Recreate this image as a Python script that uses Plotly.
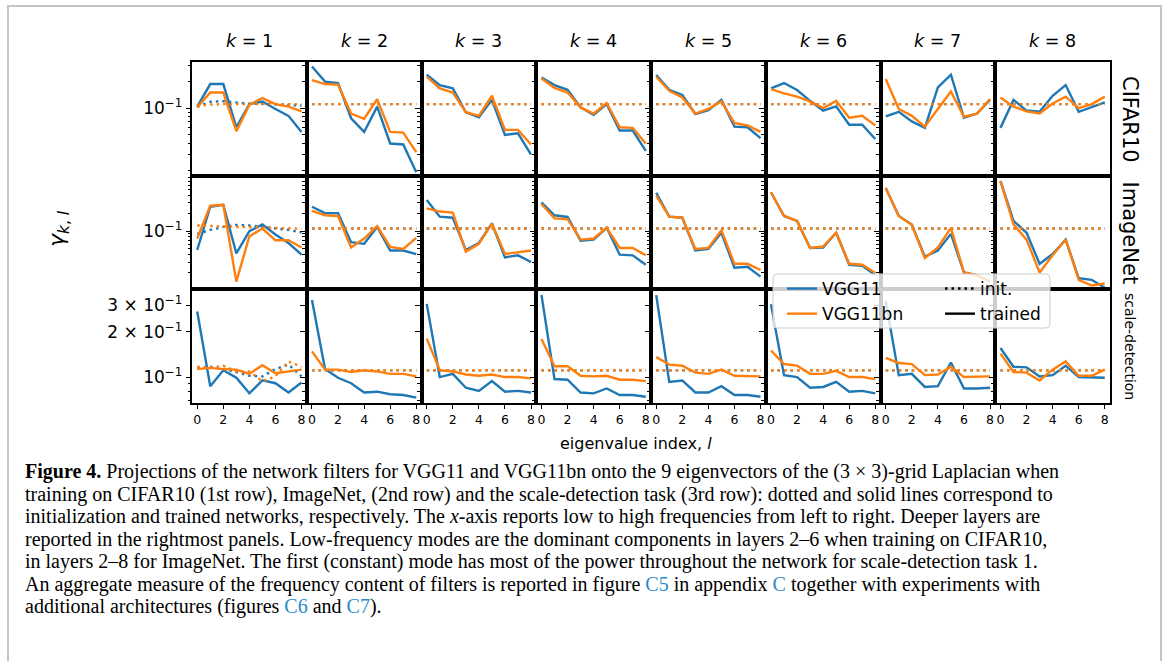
import plotly.graph_objects as go
from plotly.subplots import make_subplots

# ---------------- data ----------------
l_index = [0, 1, 2, 3, 4, 5, 6, 7, 8]
k_labels = ["1", "2", "3", "4", "5", "6", "7", "8"]
row_names = ["CIFAR10", "ImageNet", "scale-detection"]

init_flat = [0.111, 0.111, 0.111, 0.111, 0.111, 0.111, 0.111, 0.111, 0.111]

# CIFAR10
c10_vgg11_trained = [
    [0.104, 0.187, 0.187, 0.061, 0.111, 0.119, 0.098, 0.082, 0.054],
    [0.295, 0.199, 0.192, 0.077, 0.054, 0.104, 0.040, 0.039, 0.019],
    [0.238, 0.182, 0.167, 0.090, 0.079, 0.124, 0.050, 0.052, 0.030],
    [0.222, 0.182, 0.161, 0.102, 0.084, 0.111, 0.056, 0.056, 0.033],
    [0.236, 0.161, 0.141, 0.086, 0.095, 0.124, 0.062, 0.061, 0.046],
    [0.167, 0.192, 0.160, 0.121, 0.094, 0.105, 0.065, 0.065, 0.045],
    [0.081, 0.091, 0.071, 0.060, 0.171, 0.238, 0.078, 0.087, 0.124],
    [0.060, 0.124, 0.094, 0.091, 0.138, 0.182, 0.091, 0.102, 0.116],
]
c10_vgg11bn_trained = [
    [0.102, 0.150, 0.150, 0.055, 0.109, 0.130, 0.111, 0.104, 0.092],
    [0.207, 0.187, 0.184, 0.087, 0.076, 0.126, 0.054, 0.053, 0.032],
    [0.226, 0.167, 0.150, 0.090, 0.082, 0.138, 0.057, 0.057, 0.039],
    [0.216, 0.169, 0.150, 0.102, 0.087, 0.114, 0.061, 0.060, 0.040],
    [0.226, 0.157, 0.132, 0.087, 0.098, 0.119, 0.068, 0.064, 0.054],
    [0.164, 0.147, 0.135, 0.119, 0.100, 0.121, 0.078, 0.082, 0.064],
    [0.213, 0.098, 0.082, 0.062, 0.098, 0.154, 0.080, 0.087, 0.127],
    [0.132, 0.104, 0.092, 0.087, 0.113, 0.135, 0.100, 0.111, 0.135],
]
c10_vgg11_init_k1 = [0.104, 0.118, 0.120, 0.115, 0.112, 0.112, 0.110, 0.109, 0.107]
c10_vgg11bn_init_k1 = [0.105, 0.110, 0.111, 0.111, 0.112, 0.111, 0.111, 0.111, 0.111]

# ImageNet
in_vgg11_trained = [
    [0.048, 0.259, 0.280, 0.042, 0.100, 0.130, 0.088, 0.063, 0.040],
    [0.259, 0.202, 0.202, 0.065, 0.061, 0.118, 0.047, 0.047, 0.041],
    [0.338, 0.176, 0.169, 0.048, 0.063, 0.136, 0.036, 0.039, 0.030],
    [0.307, 0.186, 0.174, 0.069, 0.072, 0.114, 0.040, 0.039, 0.027],
    [0.447, 0.176, 0.169, 0.047, 0.050, 0.094, 0.024, 0.025, 0.017],
    [0.457, 0.181, 0.149, 0.052, 0.053, 0.094, 0.027, 0.026, 0.018],
    [0.537, 0.181, 0.130, 0.037, 0.047, 0.090, 0.020, 0.018, 0.014],
    [0.708, 0.149, 0.094, 0.028, 0.041, 0.072, 0.016, 0.015, 0.011],
]
in_vgg11bn_trained = [
    [0.075, 0.270, 0.280, 0.014, 0.082, 0.111, 0.070, 0.070, 0.053],
    [0.221, 0.186, 0.181, 0.053, 0.075, 0.122, 0.054, 0.050, 0.077],
    [0.243, 0.215, 0.207, 0.045, 0.061, 0.134, 0.041, 0.044, 0.047],
    [0.288, 0.165, 0.160, 0.072, 0.075, 0.114, 0.052, 0.052, 0.039],
    [0.401, 0.176, 0.169, 0.050, 0.052, 0.104, 0.028, 0.028, 0.022],
    [0.457, 0.181, 0.149, 0.052, 0.055, 0.094, 0.028, 0.027, 0.0195],
    [0.537, 0.181, 0.128, 0.035, 0.053, 0.114, 0.020, 0.018, 0.014],
    [0.708, 0.130, 0.072, 0.020, 0.039, 0.072, 0.015, 0.012, 0.013],
]
in_vgg11_init_k1 = [0.090, 0.105, 0.118, 0.128, 0.125, 0.118, 0.112, 0.105, 0.095]
in_vgg11bn_init_k1 = [0.125, 0.122, 0.120, 0.118, 0.117, 0.116, 0.114, 0.112, 0.110]

# scale-detection
sd_vgg11_trained = [
    [0.272, 0.087, 0.111, 0.099, 0.078, 0.095, 0.091, 0.079, 0.092],
    [0.325, 0.113, 0.099, 0.091, 0.079, 0.080, 0.077, 0.076, 0.073],
    [0.306, 0.100, 0.105, 0.085, 0.081, 0.094, 0.080, 0.081, 0.079],
    [0.350, 0.097, 0.096, 0.079, 0.078, 0.084, 0.076, 0.076, 0.074],
    [0.350, 0.093, 0.095, 0.079, 0.079, 0.087, 0.076, 0.076, 0.074],
    [0.304, 0.103, 0.100, 0.085, 0.086, 0.093, 0.080, 0.081, 0.078],
    [0.320, 0.103, 0.105, 0.086, 0.087, 0.125, 0.084, 0.084, 0.085],
    [0.156, 0.117, 0.116, 0.101, 0.103, 0.119, 0.100, 0.099, 0.099],
]
sd_vgg11bn_trained = [
    [0.113, 0.115, 0.113, 0.112, 0.105, 0.120, 0.106, 0.109, 0.112],
    [0.148, 0.112, 0.112, 0.108, 0.111, 0.109, 0.105, 0.105, 0.101],
    [0.180, 0.111, 0.109, 0.104, 0.102, 0.104, 0.100, 0.100, 0.098],
    [0.179, 0.118, 0.118, 0.102, 0.101, 0.102, 0.096, 0.096, 0.094],
    [0.136, 0.121, 0.119, 0.107, 0.105, 0.112, 0.102, 0.102, 0.101],
    [0.150, 0.122, 0.119, 0.105, 0.105, 0.110, 0.100, 0.100, 0.097],
    [0.134, 0.124, 0.122, 0.103, 0.104, 0.117, 0.100, 0.100, 0.101],
    [0.143, 0.108, 0.107, 0.095, 0.112, 0.127, 0.102, 0.102, 0.112],
]
sd_vgg11_init_k1 = [0.115, 0.117, 0.113, 0.108, 0.102, 0.101, 0.113, 0.121, 0.101]
sd_vgg11bn_init_k1 = [0.117, 0.115, 0.119, 0.109, 0.109, 0.094, 0.101, 0.127, 0.117]

x_tickvals = [0, 2, 4, 6, 8]
y_major_vals = [[0.1], [0.1], [0.1, 0.2, 0.3]]
y_major_text = [["10<sup>−1</sup>"], ["10<sup>−1</sup>"],
                ["10<sup>−1</sup>", "2 × 10<sup>−1</sup>", "3 × 10<sup>−1</sup>"]]
y_minor_vals = [
    [0.02, 0.03, 0.04, 0.05, 0.06, 0.07, 0.08, 0.09, 0.2, 0.3],
    [0.02, 0.03, 0.04, 0.05, 0.06, 0.07, 0.08, 0.09, 0.2, 0.3, 0.4, 0.5, 0.6, 0.7, 0.8],
    [0.07, 0.08, 0.09],
]
y_log_ranges = [[-1.76, -0.48], [-1.985, -0.06], [-1.172, -0.418]]

caption_lines = [
    "<b>Figure 4.</b> Projections of the network filters for VGG11 and VGG11bn onto the 9 eigenvectors of the (3 × 3)-grid Laplacian when",
    "training on CIFAR10 (1st row), ImageNet, (2nd row) and the scale-detection task (3rd row): dotted and solid lines correspond to",
    "initialization and trained networks, respectively. The <i>x</i>-axis reports low to high frequencies from left to right. Deeper layers are",
    "reported in the rightmost panels. Low-frequency modes are the dominant components in layers 2–6 when training on CIFAR10,",
    "in layers 2–8 for ImageNet. The first (constant) mode has most of the power throughout the network for scale-detection task 1.",
    "An aggregate measure of the frequency content of filters is reported in figure <span style='color:#2a8cc8'>C5</span> in appendix <span style='color:#2a8cc8'>C</span> together with experiments with",
    "additional architectures (figures <span style='color:#2a8cc8'>C6</span> and <span style='color:#2a8cc8'>C7</span>).",
]

# ---------------- figure ----------------
W, H = 1168, 661
X0, X1 = 192, 1110
Y0, Y1 = 62, 403
BLUE, ORANGE = "#1f77b4", "#ff7f0e"
FONT = "DejaVu Sans"

fig = make_subplots(rows=3, cols=8, horizontal_spacing=0, vertical_spacing=0)

trained = [(c10_vgg11_trained, c10_vgg11bn_trained),
           (in_vgg11_trained, in_vgg11bn_trained),
           (sd_vgg11_trained, sd_vgg11bn_trained)]
init_k1 = [(c10_vgg11_init_k1, c10_vgg11bn_init_k1),
           (in_vgg11_init_k1, in_vgg11bn_init_k1),
           (sd_vgg11_init_k1, sd_vgg11bn_init_k1)]

LW = 2.4
DOT = "2.5px,4px"
for r in range(3):
    for c in range(8):
        b_tr, o_tr = trained[r][0][c], trained[r][1][c]
        if c == 0:
            b_in, o_in = init_k1[r]
        else:
            b_in, o_in = init_flat, init_flat
        fig.add_trace(go.Scatter(x=l_index, y=b_in, mode="lines", showlegend=False,
                                 line=dict(color=BLUE, width=LW, dash=DOT)), row=r + 1, col=c + 1)
        fig.add_trace(go.Scatter(x=l_index, y=b_tr, mode="lines", showlegend=False,
                                 line=dict(color=BLUE, width=LW)), row=r + 1, col=c + 1)
        fig.add_trace(go.Scatter(x=l_index, y=o_in, mode="lines", showlegend=False,
                                 line=dict(color=ORANGE, width=LW, dash=DOT)), row=r + 1, col=c + 1)
        fig.add_trace(go.Scatter(x=l_index, y=o_tr, mode="lines", showlegend=False,
                                 line=dict(color=ORANGE, width=LW)), row=r + 1, col=c + 1)

        xd = [(X0 + c * (X1 - X0) / 8) / W, (X0 + (c + 1) * (X1 - X0) / 8) / W]
        yd = [1 - (Y0 + (r + 1) * (Y1 - Y0) / 3) / H, 1 - (Y0 + r * (Y1 - Y0) / 3) / H]
        fig.update_xaxes(row=r + 1, col=c + 1, domain=xd, range=[-0.4, 8.4],
                         showline=True, mirror=True, linecolor="black", linewidth=1.6,
                         showgrid=False, zeroline=False,
                         tickmode="array", tickvals=x_tickvals,
                         ticks="outside" if r == 2 else "", ticklen=4, tickwidth=1.2, tickcolor="black",
                         showticklabels=(r == 2),
                         tickfont=dict(family=FONT, size=12.5, color="black"))
        fig.update_yaxes(row=r + 1, col=c + 1, domain=yd, type="log", range=y_log_ranges[r],
                         showline=True, mirror=True, linecolor="black", linewidth=1.6,
                         showgrid=False, zeroline=False,
                         tickmode="array", tickvals=y_major_vals[r], ticktext=y_major_text[r],
                         ticks="outside", ticklen=4.5, tickwidth=1.2, tickcolor="black",
                         showticklabels=(c == 0),
                         tickfont=dict(family=FONT, size=17, color="black"),
                         minor=dict(tickmode="array", tickvals=y_minor_vals[r], ticks="outside",
                                    ticklen=2.5, tickwidth=1, tickcolor="black", showgrid=False))

# legend entries
fig.add_trace(go.Scatter(x=[None], y=[None], mode="lines", name="VGG11", legend="legend",
                         line=dict(color=BLUE, width=LW)))
fig.add_trace(go.Scatter(x=[None], y=[None], mode="lines", name="VGG11bn", legend="legend",
                         line=dict(color=ORANGE, width=LW)))
fig.add_trace(go.Scatter(x=[None], y=[None], mode="lines", name="init.", legend="legend2",
                         line=dict(color="black", width=LW, dash=DOT)))
fig.add_trace(go.Scatter(x=[None], y=[None], mode="lines", name="trained", legend="legend2",
                         line=dict(color="black", width=LW)))

ann = []
for c in range(8):
    ann.append(dict(x=(X0 + (c + 0.5) * (X1 - X0) / 8) / W, y=1 - 41 / H, xref="paper", yref="paper",
                    text="<i>k</i> = " + k_labels[c], showarrow=False,
                    font=dict(family=FONT, size=17.5, color="black"), xanchor="center", yanchor="middle"))
row_centers = [119, 232.5, 346]
row_sizes = [21, 21, 14]
for r in range(3):
    ann.append(dict(x=1130 / W, y=1 - row_centers[r] / H, xref="paper", yref="paper",
                    text=row_names[r], textangle=90, showarrow=False,
                    font=dict(family=FONT, size=row_sizes[r], color="black"),
                    xanchor="center", yanchor="middle"))
ann.append(dict(x=58 / W, y=1 - 229 / H, xref="paper", yref="paper",
                text="<i>γ</i><sub><i>k</i>, <i>l</i></sub>", textangle=-90, showarrow=False,
                font=dict(family=FONT, size=22, color="black"), xanchor="center", yanchor="middle"))
ann.append(dict(x=636 / W, y=1 - 443 / H, xref="paper", yref="paper",
                text="eigenvalue index, <i>l</i>", showarrow=False,
                font=dict(family=FONT, size=16, color="black"), xanchor="center", yanchor="middle"))
for i, line in enumerate(caption_lines):
    ann.append(dict(x=23 / W, y=1 - (471.5 + i * 22.5) / H, xref="paper", yref="paper",
                    text=line, showarrow=False, align="left",
                    font=dict(family="Liberation Serif", size=20, color="black"),
                    xanchor="left", yanchor="middle"))

# legend box (rounded), given in pixels then converted to paper coordinates
rr = 4
path = (f"M {773+rr},{274} L {1050-rr},{274} Q 1050,274 1050,{274+rr} L 1050,{328-rr} "
        f"Q 1050,328 {1050-rr},328 L {773+rr},328 Q 773,328 773,{328-rr} L 773,{274+rr} Q 773,274 {773+rr},274 Z")


def to_paper_path(p):
    out = []
    for tok in p.split():
        if "," in tok:
            a, b = tok.split(",")
            out.append(f"{float(a)/W:.5f},{1-float(b)/H:.5f}")
        else:
            out.append(tok)
    return " ".join(out)


shapes = [
    dict(type="rect", xref="paper", yref="paper", x0=8 / W, x1=1161 / W, y0=-0.05, y1=1 - 6 / H,
         line=dict(color="#c4c4c4", width=2), fillcolor="rgba(0,0,0,0)", layer="below"),
    dict(type="path", xref="paper", yref="paper", path=to_paper_path(path),
         line=dict(color="#cccccc", width=1), fillcolor="rgba(255,255,255,0.8)", layer="above"),
]

fig.update_layout(
    width=W, height=H, margin=dict(l=0, r=0, t=0, b=0),
    paper_bgcolor="white", plot_bgcolor="rgba(0,0,0,0)",
    annotations=ann, shapes=shapes,
    legend=dict(x=782 / W, y=1 - 271 / H, xanchor="left", yanchor="top",
                bgcolor="rgba(0,0,0,0)", borderwidth=0, tracegroupgap=0,
                font=dict(family=FONT, size=17, color="black")),
    legend2=dict(x=940 / W, y=1 - 271 / H, xanchor="left", yanchor="top",
                 bgcolor="rgba(0,0,0,0)", borderwidth=0, tracegroupgap=0,
                 font=dict(family=FONT, size=17, color="black")),
)

fig.write_html("out.html")
